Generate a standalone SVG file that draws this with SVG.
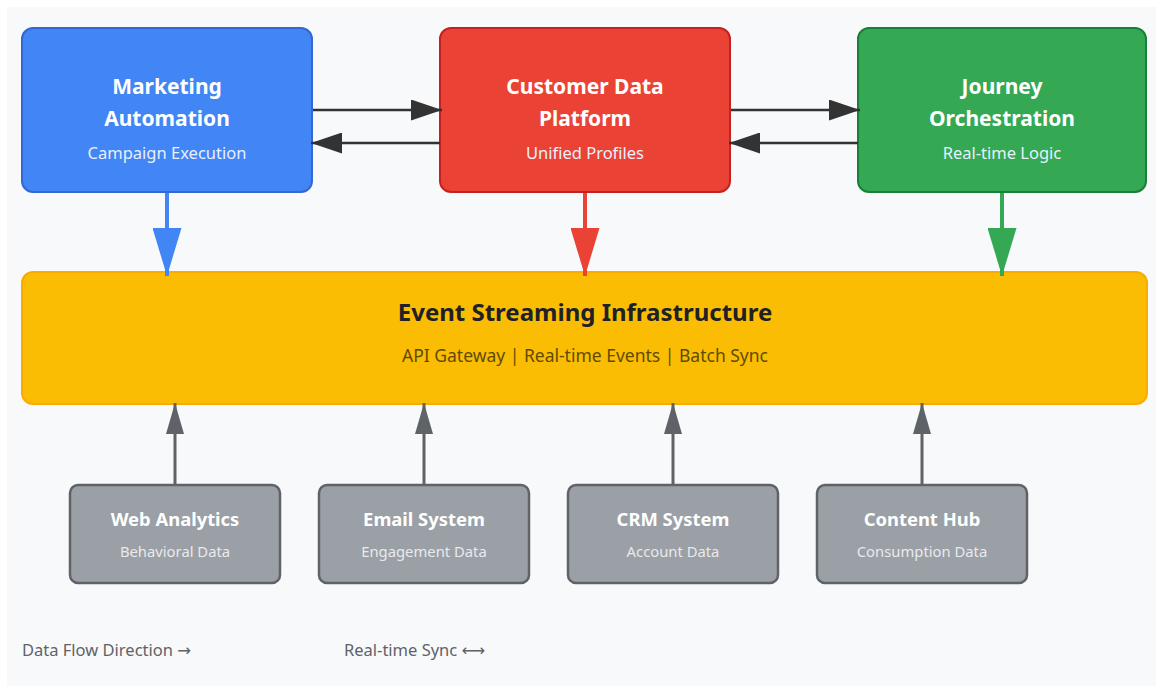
<svg xmlns="http://www.w3.org/2000/svg" width="1156" height="687" viewBox="0 0 1156 687">
<style>
text{font-family:"Noto Sans","Open Sans","DejaVu Sans",sans-serif;text-anchor:middle}
.t{font-weight:bold;font-size:21px;fill:#fff}
.s{font-size:16.5px;fill:#e8f0fe}
.bt{font-weight:bold;font-size:18.4px;fill:#fff}
.bs{font-size:14.8px;fill:#e8eaed}
.g rect{fill:#9aa0a6;stroke:#5f6368;stroke-width:2.5}
.leg{font-size:16.5px;fill:#5f6368;text-anchor:start}
</style>
<defs>
<marker id="ad" viewBox="0 0 10 10" refX="10" refY="5" markerWidth="31" markerHeight="21" markerUnits="userSpaceOnUse" orient="auto" preserveAspectRatio="none"><path d="M0,0L10,5L0,10z" fill="#333"/></marker>
<marker id="ab" viewBox="0 0 10 10" refX="10" refY="5" markerWidth="48" markerHeight="29" markerUnits="userSpaceOnUse" orient="auto" preserveAspectRatio="none"><path d="M0,0L10,5L0,10z" fill="#4285f4"/></marker>
<marker id="ar" viewBox="0 0 10 10" refX="10" refY="5" markerWidth="48" markerHeight="29" markerUnits="userSpaceOnUse" orient="auto" preserveAspectRatio="none"><path d="M0,0L10,5L0,10z" fill="#ea4335"/></marker>
<marker id="ag" viewBox="0 0 10 10" refX="10" refY="5" markerWidth="48" markerHeight="29" markerUnits="userSpaceOnUse" orient="auto" preserveAspectRatio="none"><path d="M0,0L10,5L0,10z" fill="#34a853"/></marker>
<marker id="ay" viewBox="0 0 10 10" refX="10" refY="5" markerWidth="31" markerHeight="18" markerUnits="userSpaceOnUse" orient="auto" preserveAspectRatio="none"><path d="M0,0L10,5L0,10z" fill="#5f6368"/></marker>
</defs>
<rect x="7" y="7" width="1149" height="679" fill="#f8f9fa"/>
<g id="marketing">
<rect x="22" y="28" width="290" height="164" rx="11" fill="#4285f4" stroke="#3367d6" stroke-width="2"/>
<text class="t" x="167" y="94">Marketing</text>
<text class="t" x="167" y="126">Automation</text>
<text class="s" x="167" y="159">Campaign Execution</text>
</g>
<g id="cdp">
<rect x="440" y="28" width="290" height="164" rx="11" fill="#ea4335" stroke="#c5221f" stroke-width="2"/>
<text class="t" x="585" y="94">Customer Data</text>
<text class="t" x="585" y="126">Platform</text>
<text class="s" x="585" y="159">Unified Profiles</text>
</g>
<g id="journey">
<rect x="858" y="28" width="288" height="164" rx="11" fill="#34a853" stroke="#188038" stroke-width="2"/>
<text class="t" x="1002" y="94">Journey</text>
<text class="t" x="1002" y="126">Orchestration</text>
<text class="s" x="1002" y="159">Real-time Logic</text>
</g>
<g id="event">
<rect x="22" y="272" width="1125" height="132" rx="11" fill="#fbbc04" stroke="#f9ab00" stroke-width="2"/>
<text x="585" y="321" style="font-weight:bold;font-size:24px;fill:#202124">Event Streaming Infrastructure</text>
<text x="585" y="362" style="font-size:17.5px;fill:#5f4c00">API Gateway | Real-time Events | Batch Sync</text>
</g>
<g id="web" class="g">
<rect x="70" y="485" width="210" height="98" rx="8"/>
<text class="bt" x="175" y="526">Web Analytics</text>
<text class="bs" x="175" y="557">Behavioral Data</text>
</g>
<g id="email" class="g">
<rect x="319" y="485" width="210" height="98" rx="8"/>
<text class="bt" x="424" y="526">Email System</text>
<text class="bs" x="424" y="557">Engagement Data</text>
</g>
<g id="crm" class="g">
<rect x="568" y="485" width="210" height="98" rx="8"/>
<text class="bt" x="673" y="526">CRM System</text>
<text class="bs" x="673" y="557">Account Data</text>
</g>
<g id="content" class="g">
<rect x="817" y="485" width="210" height="98" rx="8"/>
<text class="bt" x="922" y="526">Content Hub</text>
<text class="bs" x="922" y="557">Consumption Data</text>
</g>
<g id="connectors" fill="none">
<line x1="313" y1="110" x2="442" y2="110" stroke="#333" stroke-width="2.5" marker-end="url(#ad)"/>
<line x1="440" y1="143" x2="311" y2="143" stroke="#333" stroke-width="2.5" marker-end="url(#ad)"/>
<line x1="731" y1="110" x2="860" y2="110" stroke="#333" stroke-width="2.5" marker-end="url(#ad)"/>
<line x1="858" y1="143" x2="729" y2="143" stroke="#333" stroke-width="2.5" marker-end="url(#ad)"/>
<line x1="167" y1="193" x2="167" y2="276" stroke="#4285f4" stroke-width="4" marker-end="url(#ab)"/>
<line x1="585" y1="193" x2="585" y2="276" stroke="#ea4335" stroke-width="4" marker-end="url(#ar)"/>
<line x1="1002" y1="193" x2="1002" y2="276" stroke="#34a853" stroke-width="4" marker-end="url(#ag)"/>
<line x1="175" y1="485" x2="175" y2="403" stroke="#5f6368" stroke-width="3" marker-end="url(#ay)"/>
<line x1="424" y1="485" x2="424" y2="403" stroke="#5f6368" stroke-width="3" marker-end="url(#ay)"/>
<line x1="673" y1="485" x2="673" y2="403" stroke="#5f6368" stroke-width="3" marker-end="url(#ay)"/>
<line x1="922" y1="485" x2="922" y2="403" stroke="#5f6368" stroke-width="3" marker-end="url(#ay)"/>
</g>
<text class="leg" x="22" y="656">Data Flow Direction →</text>
<text class="leg" x="344" y="656">Real-time Sync ⟷</text>
</svg>
